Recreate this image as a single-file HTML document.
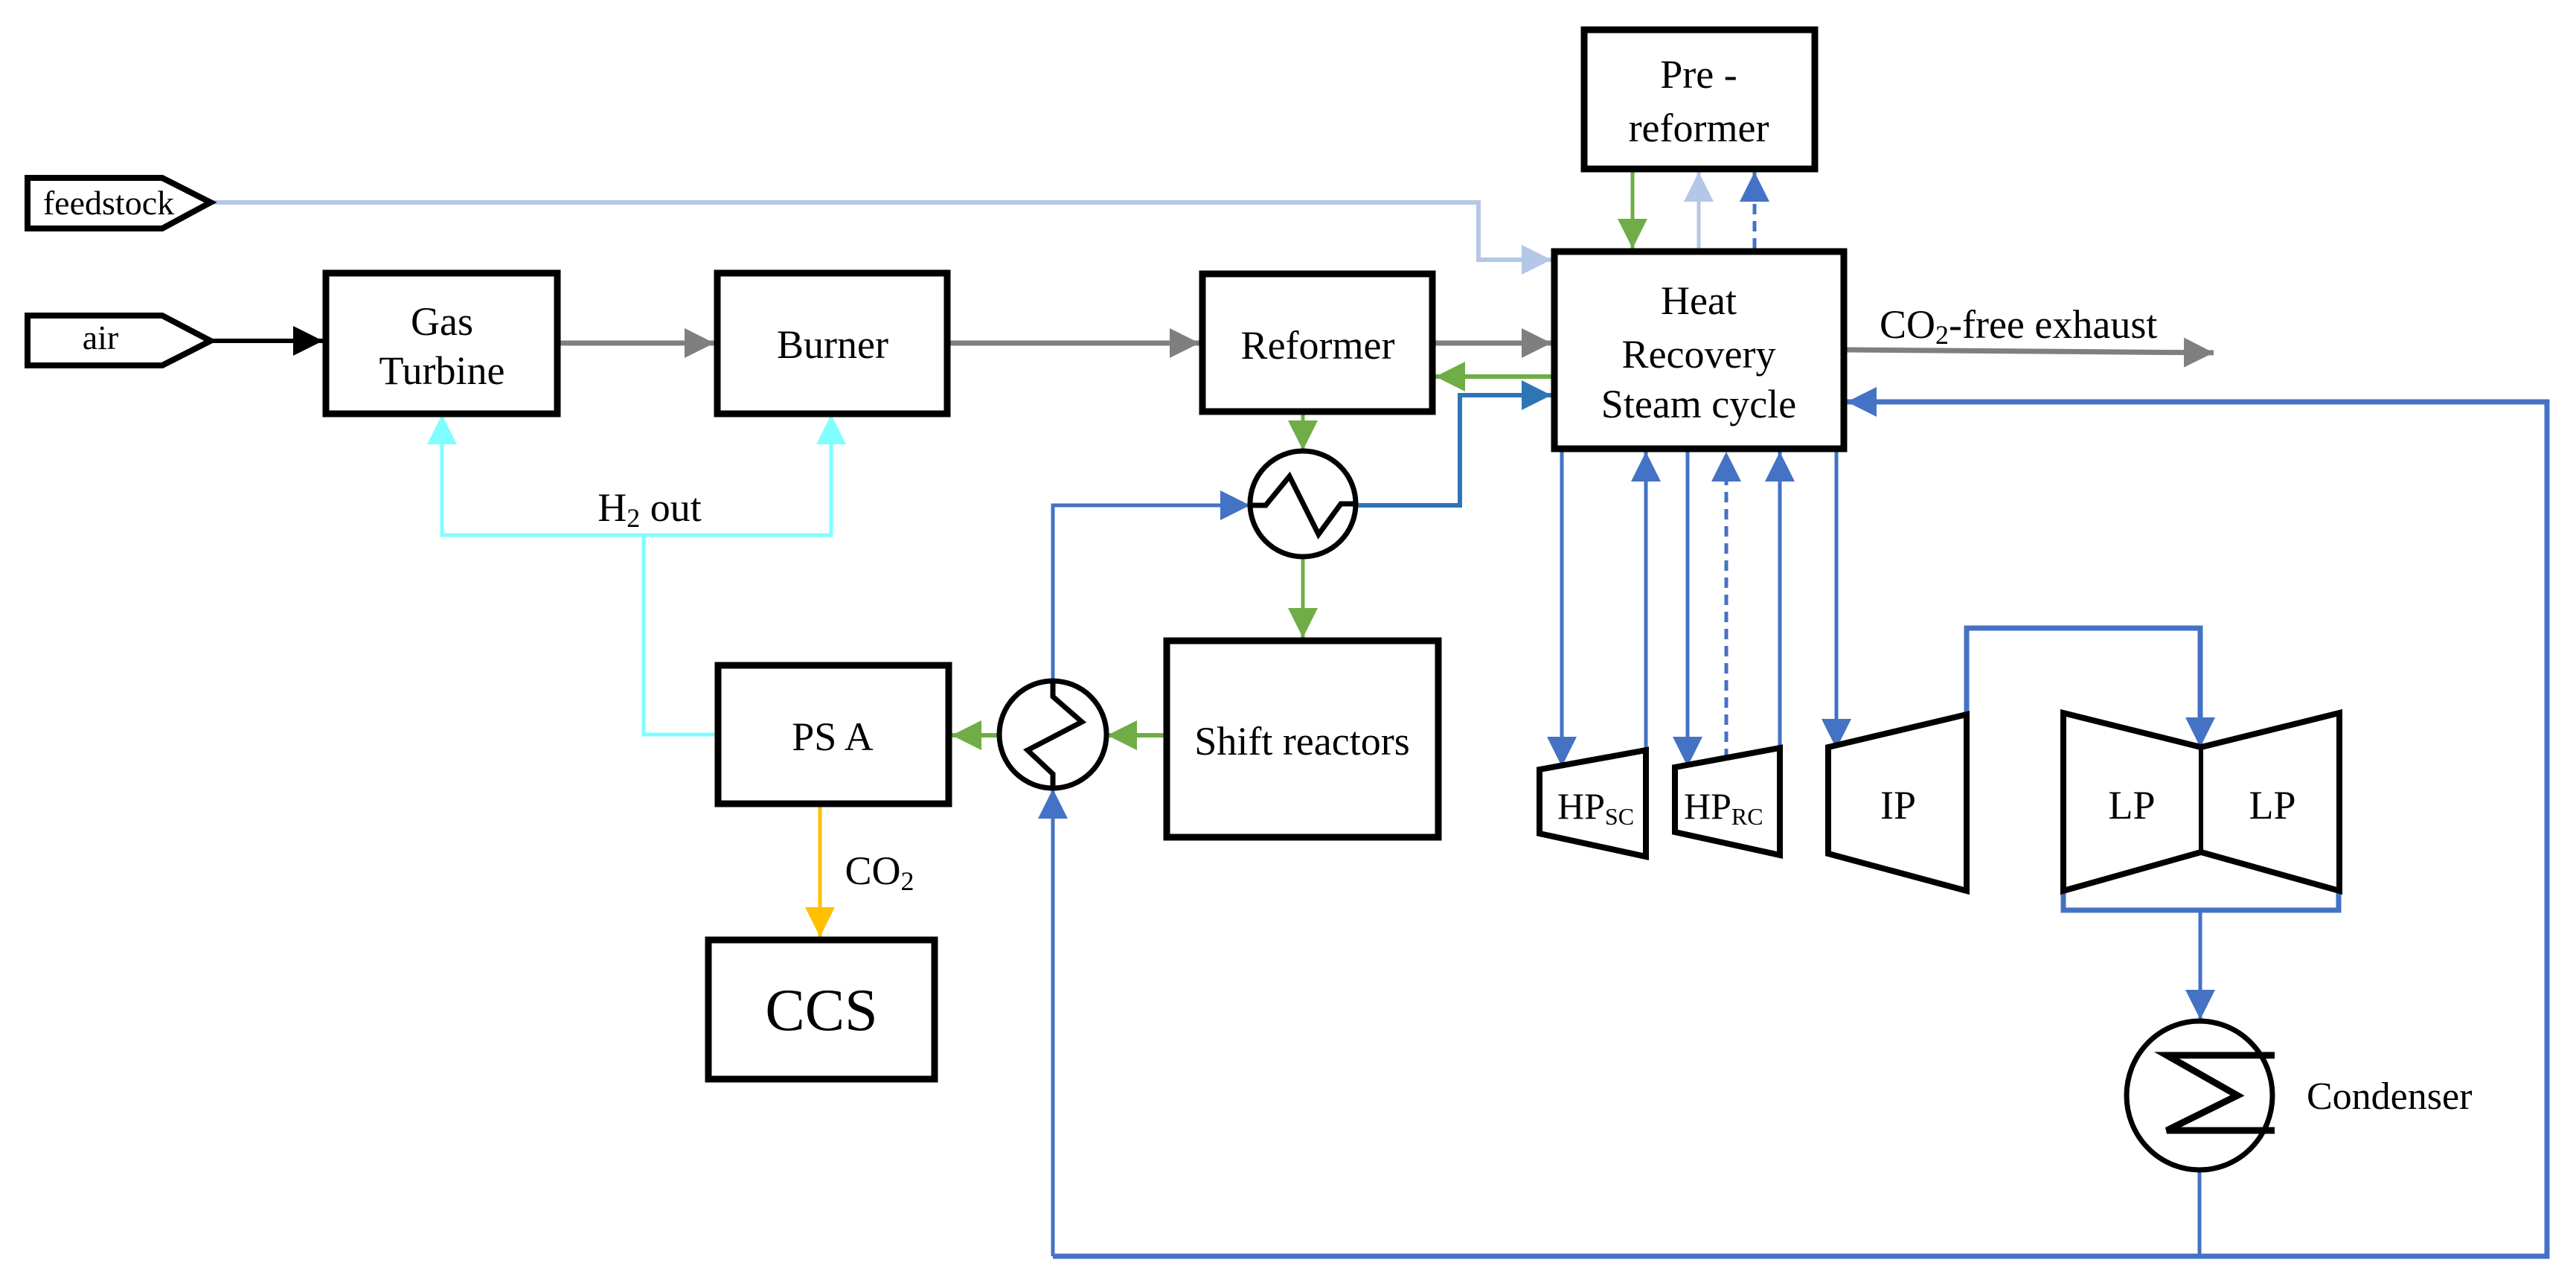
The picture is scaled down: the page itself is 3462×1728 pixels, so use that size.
<!DOCTYPE html>
<html><head><meta charset="utf-8"><style>
html,body{margin:0;padding:0;background:#fff;}
svg{display:block;}
svg text{font-family:"Liberation Serif","DejaVu Serif",serif;fill:#000;}
</style></head><body>
<svg width="3462" height="1728" viewBox="0 0 3462 1728" xmlns="http://www.w3.org/2000/svg" font-family="Liberation Serif, DejaVu Serif, serif">
<defs>
<marker id="aK" viewBox="0 0 40 40" markerUnits="userSpaceOnUse" markerWidth="40" markerHeight="40" refX="40" refY="20" orient="auto"><path d="M0,0L40,20L0,40z" fill="#000"/></marker>
<marker id="aG" viewBox="0 0 40 40" markerUnits="userSpaceOnUse" markerWidth="40" markerHeight="40" refX="40" refY="20" orient="auto"><path d="M0,0L40,20L0,40z" fill="#7f7f7f"/></marker>
<marker id="aN" viewBox="0 0 40 40" markerUnits="userSpaceOnUse" markerWidth="40" markerHeight="40" refX="40" refY="20" orient="auto"><path d="M0,0L40,20L0,40z" fill="#70ad47"/></marker>
<marker id="aB" viewBox="0 0 40 40" markerUnits="userSpaceOnUse" markerWidth="40" markerHeight="40" refX="40" refY="20" orient="auto"><path d="M0,0L40,20L0,40z" fill="#4472c4"/></marker>
<marker id="aD" viewBox="0 0 40 40" markerUnits="userSpaceOnUse" markerWidth="40" markerHeight="40" refX="40" refY="20" orient="auto"><path d="M0,0L40,20L0,40z" fill="#2e75b6"/></marker>
<marker id="aL" viewBox="0 0 40 40" markerUnits="userSpaceOnUse" markerWidth="40" markerHeight="40" refX="40" refY="20" orient="auto"><path d="M0,0L40,20L0,40z" fill="#b4c7e7"/></marker>
<marker id="aC" viewBox="0 0 40 40" markerUnits="userSpaceOnUse" markerWidth="40" markerHeight="40" refX="40" refY="20" orient="auto"><path d="M0,0L40,20L0,40z" fill="#7fffff"/></marker>
<marker id="aO" viewBox="0 0 40 40" markerUnits="userSpaceOnUse" markerWidth="40" markerHeight="40" refX="40" refY="20" orient="auto"><path d="M0,0L40,20L0,40z" fill="#ffc000"/></marker>
</defs>

<g fill="none" stroke-linejoin="miter">
<polyline points="283,272 1987,272 1987,349 2085,349" stroke="#b4c7e7" stroke-width="6" marker-end="url(#aL)"/>
<line x1="283" y1="458" x2="434" y2="458" stroke="#000" stroke-width="6" marker-end="url(#aK)"/>
<line x1="753" y1="461" x2="960" y2="461" stroke="#7f7f7f" stroke-width="7" marker-end="url(#aG)"/>
<line x1="1277" y1="461" x2="1612" y2="461" stroke="#7f7f7f" stroke-width="7" marker-end="url(#aG)"/>
<line x1="1929" y1="461" x2="2085" y2="461" stroke="#7f7f7f" stroke-width="7" marker-end="url(#aG)"/>
<line x1="2482" y1="470" x2="2975" y2="474" stroke="#7f7f7f" stroke-width="7" marker-end="url(#aG)"/>
<polyline points="963,987 865,987 865,719" stroke="#7fffff" stroke-width="5"/>
<polyline points="594,557 594,719 1117,719 1117,557" stroke="#7fffff" stroke-width="5"/>
<line x1="594" y1="719" x2="594" y2="557" stroke="#7fffff" stroke-width="5" marker-end="url(#aC)"/>
<line x1="1117" y1="719" x2="1117" y2="557" stroke="#7fffff" stroke-width="5" marker-end="url(#aC)"/>
<line x1="2085" y1="506" x2="1929" y2="506" stroke="#70ad47" stroke-width="6" marker-end="url(#aN)"/>
<line x1="2194" y1="231" x2="2194" y2="334" stroke="#70ad47" stroke-width="5" marker-end="url(#aN)"/>
<line x1="1751" y1="557" x2="1751" y2="605" stroke="#70ad47" stroke-width="5" marker-end="url(#aN)"/>
<line x1="1751" y1="749" x2="1751" y2="857" stroke="#70ad47" stroke-width="5" marker-end="url(#aN)"/>
<line x1="1564" y1="988" x2="1488" y2="988" stroke="#70ad47" stroke-width="6" marker-end="url(#aN)"/>
<line x1="1343" y1="988" x2="1279" y2="988" stroke="#70ad47" stroke-width="6" marker-end="url(#aN)"/>
<line x1="2283" y1="334" x2="2283" y2="231" stroke="#b4c7e7" stroke-width="5" marker-end="url(#aL)"/>
<line x1="2358" y1="334" x2="2358" y2="231" stroke="#4472c4" stroke-width="5" stroke-dasharray="14,9" marker-end="url(#aB)"/>
<polyline points="1823,679 1962,679 1962,531 2085,531" stroke="#2e75b6" stroke-width="6" marker-end="url(#aD)"/>
<polyline points="1415,914 1415,679 1680,679" stroke="#4472c4" stroke-width="5" marker-end="url(#aB)"/>
<polyline points="2956,1572 2956,1688" stroke="#4472c4" stroke-width="5"/>
<polyline points="1415,1688 3423,1688 3423,540 2482,540" stroke="#4472c4" stroke-width="7" marker-end="url(#aB)"/>
<line x1="1415" y1="1688" x2="1415" y2="1060" stroke="#4472c4" stroke-width="5" marker-end="url(#aB)"/>
<line x1="2099" y1="607" x2="2099" y2="1030" stroke="#4472c4" stroke-width="5" marker-end="url(#aB)"/>
<line x1="2212" y1="1008" x2="2212" y2="607" stroke="#4472c4" stroke-width="5" marker-end="url(#aB)"/>
<line x1="2268" y1="607" x2="2268" y2="1030" stroke="#4472c4" stroke-width="5" marker-end="url(#aB)"/>
<line x1="2320" y1="1020" x2="2320" y2="607" stroke="#4472c4" stroke-width="5" stroke-dasharray="14,9" marker-end="url(#aB)"/>
<line x1="2392" y1="1005" x2="2392" y2="607" stroke="#4472c4" stroke-width="5" marker-end="url(#aB)"/>
<line x1="2468" y1="607" x2="2468" y2="1006" stroke="#4472c4" stroke-width="5" marker-end="url(#aB)"/>
<polyline points="2643,960 2643,844 2957,844 2957,1004" stroke="#4472c4" stroke-width="7"/>
<line x1="2957" y1="900" x2="2957" y2="1004" stroke="#4472c4" stroke-width="5" marker-end="url(#aB)"/>
<polyline points="2773,1195 2773,1223 3143,1223 3143,1195" stroke="#4472c4" stroke-width="7"/>
<line x1="2957" y1="1223" x2="2957" y2="1370" stroke="#4472c4" stroke-width="5" marker-end="url(#aB)"/>
<line x1="1102" y1="1084" x2="1102" y2="1259" stroke="#ffc000" stroke-width="5" marker-end="url(#aO)"/>
</g>

<g fill="#fff" stroke="#000" stroke-width="9">
<polygon points="37,239 218,239 283,272 218,307 37,307" stroke-width="8"/>
<polygon points="37,424 218,424 283,458 218,491 37,491" stroke-width="8"/>
<rect x="438" y="367" width="311" height="189"/>
<rect x="964" y="367" width="309" height="189"/>
<rect x="1616" y="368" width="309" height="185"/>
<rect x="2089" y="338" width="389" height="265"/>
<rect x="2129" y="40" width="310" height="187"/>
<rect x="1568" y="861" width="365" height="264"/>
<rect x="965" y="894" width="310" height="186"/>
<rect x="952" y="1263" width="304" height="187"/>
<circle cx="1751" cy="677" r="71" stroke-width="7"/>
<circle cx="1415" cy="987" r="72" stroke-width="7"/>
<ellipse cx="2956" cy="1472" rx="98" ry="100" stroke-width="7"/>
<polygon points="2069,1034 2212,1008 2212,1151 2069,1120" stroke-width="8"/>
<polygon points="2251,1031 2392,1005 2392,1149 2251,1118" stroke-width="8"/>
<polygon points="2457,1004 2643,960 2643,1197 2457,1147" stroke-width="8"/>
<polygon points="2773,958 2958,1004 3144,958 3144,1197 2958,1145 2773,1197" stroke-width="8"/>
</g>
<g fill="none" stroke="#000" stroke-width="7">
<line x1="2958" y1="1004" x2="2958" y2="1145" stroke-width="6"/>
<polyline points="1680,679 1701,679 1733,640 1772,718 1802,677 1822,677"/>
<polyline points="1415,915 1415,936 1454,970 1381,1008 1415,1040 1415,1060"/>
<polyline points="3057,1418 2912,1418 3007,1472 2912,1519 3057,1519" stroke-width="9"/>
</g>

<g font-size="46" text-anchor="middle">
<text x="146" y="288">feedstock</text>
<text x="135" y="469">air</text>
</g>
<g font-size="54" text-anchor="middle">
<text x="594" y="450">Gas</text>
<text x="594" y="516">Turbine</text>
<text x="1119" y="481">Burner</text>
<text x="1771" y="482">Reformer</text>
<text x="2283" y="422">Heat</text>
<text x="2283" y="494">Recovery</text>
<text x="2283" y="561">Steam cycle</text>
<text x="2283" y="118">Pre -</text>
<text x="2283" y="190">reformer</text>
<text x="1750" y="1014">Shift reactors</text>
<text x="1119" y="1008">PS A</text>
<text x="873" y="700">H<tspan font-size="36" dy="8">2</tspan><tspan dy="-8"> out</tspan></text>
<text x="1182" y="1188">CO<tspan font-size="36" dy="8">2</tspan></text>
<text x="2551" y="1100">IP</text>
<text x="2865" y="1100">LP</text>
<text x="3054" y="1100">LP</text>
</g>
<text x="2526" y="454" font-size="54">CO<tspan font-size="36" dy="8">2</tspan><tspan dy="-8">-free exhaust</tspan></text>
<text x="3100" y="1490" font-size="52">Condenser</text>
<text x="2093" y="1100" font-size="50">HP<tspan font-size="32" dy="8">SC</tspan></text>
<text x="2263" y="1100" font-size="50">HP<tspan font-size="32" dy="8">RC</tspan></text>
<text x="1104" y="1384" font-size="80" text-anchor="middle">CCS</text>
</svg>
</body></html>
